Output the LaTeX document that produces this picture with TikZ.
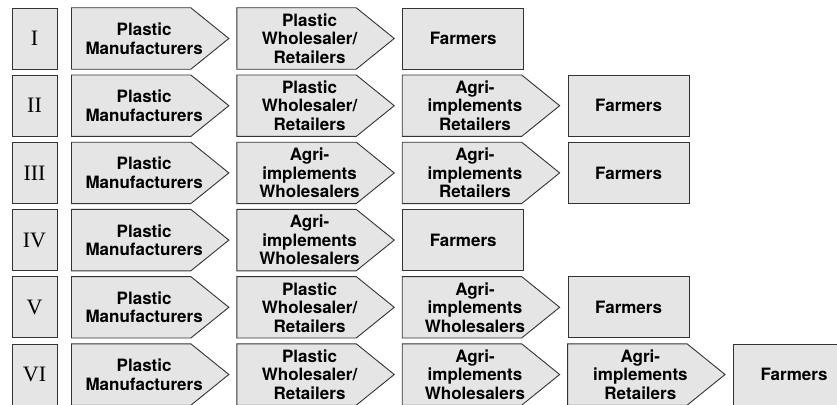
\documentclass[tikz,border=0pt]{standalone}
\usepackage{fontspec}
\setsansfont{TeX Gyre Heros}
\newfontfamily\numfont{Liberation Serif}
\usepackage{tikz}
\usetikzlibrary{positioning, backgrounds}
\usepackage{xcolor}

\definecolor{boxfill}{gray}{0.9}
\definecolor{boxline}{gray}{0.2}

\begin{document}
\begin{tikzpicture}[
    x=1pt, y=1pt,
    % Node styles
    numbox/.style={rectangle, draw=boxline, fill=boxfill, line width=0.9pt, minimum width=45pt, minimum height=61pt, inner sep=0pt, font=\numfont\fontsize{22}{24}\selectfont},
    stage/.style={rectangle, minimum width=145pt, minimum height=61pt, inner sep=0pt, align=center, font=\sffamily\bfseries\fontsize{17}{18.5}\selectfont},
    stageline/.style={draw=boxline, fill=boxfill, line width=0.9pt, line join=miter},
    enduser/.style={rectangle, draw=boxline, fill=boxfill, line width=0.9pt, minimum width=121pt, minimum height=61pt, inner sep=0pt, align=center, font=\sffamily\bfseries\fontsize{17}{18.5}\selectfont},
    next/.style={right=20pt of #1},
]

\useasboundingbox (0,0) rectangle (837,-404);
\clip (0,0) rectangle (837,-404);

% ============================================================================
% CHANNEL I
% ============================================================================
\node[numbox] (n1) at (34.5, -38.5) {I};
\node[stage, right=14pt of n1] (a1) {Plastic\\Manufacturers};
\node[stage, next=a1] (b1) {Plastic\\Wholesaler/\\Retailers};
\node[enduser, next=b1] (c1) {Farmers};

% ============================================================================
% CHANNEL II
% ============================================================================
\node[numbox] (n2) at (34.5, -105.7) {II};
\node[stage, right=14pt of n2] (a2) {Plastic\\Manufacturers};
\node[stage, next=a2] (b2) {Plastic\\Wholesaler/\\Retailers};
\node[stage, next=b2] (c2) {Agri-\\implements\\Retailers};
\node[enduser, next=c2] (d2) {Farmers};

% ============================================================================
% CHANNEL III
% ============================================================================
\node[numbox] (n3) at (34.5, -172.9) {III};
\node[stage, right=14pt of n3] (a3) {Plastic\\Manufacturers};
\node[stage, next=a3] (b3) {Agri-\\implements\\Wholesalers};
\node[stage, next=b3] (c3) {Agri-\\implements\\Retailers};
\node[enduser, next=c3] (d3) {Farmers};

% ============================================================================
% CHANNEL IV
% ============================================================================
\node[numbox] (n4) at (34.5, -240.1) {IV};
\node[stage, right=14pt of n4] (a4) {Plastic\\Manufacturers};
\node[stage, next=a4] (b4) {Agri-\\implements\\Wholesalers};
\node[enduser, next=b4] (c4) {Farmers};

% ============================================================================
% CHANNEL V
% ============================================================================
\node[numbox] (n5) at (34.5, -307.3) {V};
\node[stage, right=14pt of n5] (a5) {Plastic\\Manufacturers};
\node[stage, next=a5] (b5) {Plastic\\Wholesaler/\\Retailers};
\node[stage, next=b5] (c5) {Agri-\\implements\\Wholesalers};
\node[enduser, next=c5] (d5) {Farmers};

% ============================================================================
% CHANNEL VI
% ============================================================================
\node[numbox] (n6) at (34.5, -374.5) {VI};
\node[stage, right=14pt of n6] (a6) {Plastic\\Manufacturers};
\node[stage, next=a6] (b6) {Plastic\\Wholesaler/\\Retailers};
\node[stage, next=b6] (c6) {Agri-\\implements\\Wholesalers};
\node[stage, next=c6] (d6) {Agri-\\implements\\Retailers};
\node[enduser, next=d6] (e6) {Farmers};

% Pointed outlines behind the stage texts
\begin{scope}[on background layer]
\foreach \s in {a1,b1, a2,b2,c2, a3,b3,c3, a4,b4, a5,b5,c5, a6,b6,c6,d6} {
    \draw[stageline] (\s.north west) -- ([xshift=-26pt]\s.north east)
        -- ([xshift=12pt]\s.east) -- ([xshift=-26pt]\s.south east)
        -- (\s.south west) -- cycle;
}
\end{scope}

\end{tikzpicture}
\end{document}
